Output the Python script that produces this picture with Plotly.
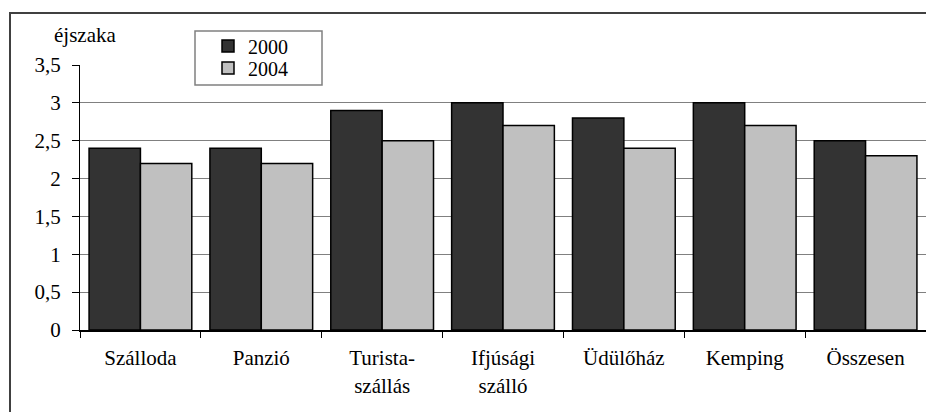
import plotly.graph_objects as go

categories = ["Szálloda", "Panzió", "Turista-<br>szállás", "Ifjúsági<br>szálló",
              "Üdülőház", "Kemping", "Összesen"]
values_2000 = [2.4, 2.4, 2.9, 3.0, 2.8, 3.0, 2.5]
values_2004 = [2.2, 2.2, 2.5, 2.7, 2.4, 2.7, 2.3]
series_names = ["2000", "2004"]
y_ticks = [0, 0.5, 1, 1.5, 2, 2.5, 3, 3.5]

FONT = "Liberation Serif, Times New Roman, serif"

fig = go.Figure()
fig.add_trace(go.Bar(x=categories, y=values_2000, name=series_names[0], legend="legend",
                     marker=dict(color="#333333", line=dict(color="black", width=1.5))))
fig.add_trace(go.Bar(x=categories, y=values_2004, name=series_names[1], legend="legend2",
                     marker=dict(color="#c0c0c0", line=dict(color="black", width=1.5))))

W, H = 926, 412
L, R, T, B = 80, 0, 65, 82
pw = W - L - R
ph = H - T - B

def px_x(x):
    return (x - L) / pw

def px_y(y):
    return (H - B - y) / ph

leg_common = dict(xanchor="left", yanchor="middle", bgcolor="rgba(0,0,0,0)",
                  borderwidth=0, font=dict(family=FONT, size=20, color="black"),
                  itemwidth=30)

fig.update_layout(
    width=W, height=H,
    margin=dict(l=L, r=R, t=T, b=B),
    paper_bgcolor="white", plot_bgcolor="white",
    font=dict(family=FONT, size=21, color="black"),
    separators=", ",
    barmode="group", bargap=0.15, bargroupgap=0,
    showlegend=True,
    legend=dict(x=px_x(208), y=px_y(46), **leg_common),
    legend2=dict(x=px_x(208), y=px_y(68), **leg_common),
    xaxis=dict(type="category", showline=True, linecolor="black", linewidth=2,
               ticks="outside", tickson="boundaries", ticklen=6, tickcolor="black",
               tickwidth=1, showgrid=False, ticklabelstandoff=8,
               tickfont=dict(family=FONT, size=21, color="black")),
    yaxis=dict(range=[0, 3.5], tickvals=y_ticks, showline=True, linecolor="black",
               linewidth=1, ticks="outside", ticklen=7, tickcolor="black",
               showgrid=True, gridcolor="#808080", gridwidth=1, zeroline=False,
               ticklabelstandoff=7,
               tickfont=dict(family=FONT, size=21, color="black")),
    shapes=[
        dict(type="rect", xref="paper", yref="paper",
             x0=px_x(195), x1=px_x(322), y0=px_y(85), y1=px_y(31),
             fillcolor="white", line=dict(color="#808080", width=1.5), layer="above"),
        dict(type="rect", xref="paper", yref="paper",
             x0=px_x(10), x1=px_x(960), y0=px_y(450), y1=px_y(13),
             fillcolor="rgba(0,0,0,0)", line=dict(color="#404040", width=2), layer="above"),
    ],
    annotations=[
        dict(text="éjszaka", xref="paper", yref="paper", x=px_x(52), y=px_y(35),
             xanchor="left", yanchor="middle", showarrow=False,
             font=dict(family=FONT, size=21, color="black")),
    ],
)

fig.write_html("out.html", config={"displayModeBar": False},
               post_script="document.body.style.margin='0';document.body.style.overflow='hidden';")
